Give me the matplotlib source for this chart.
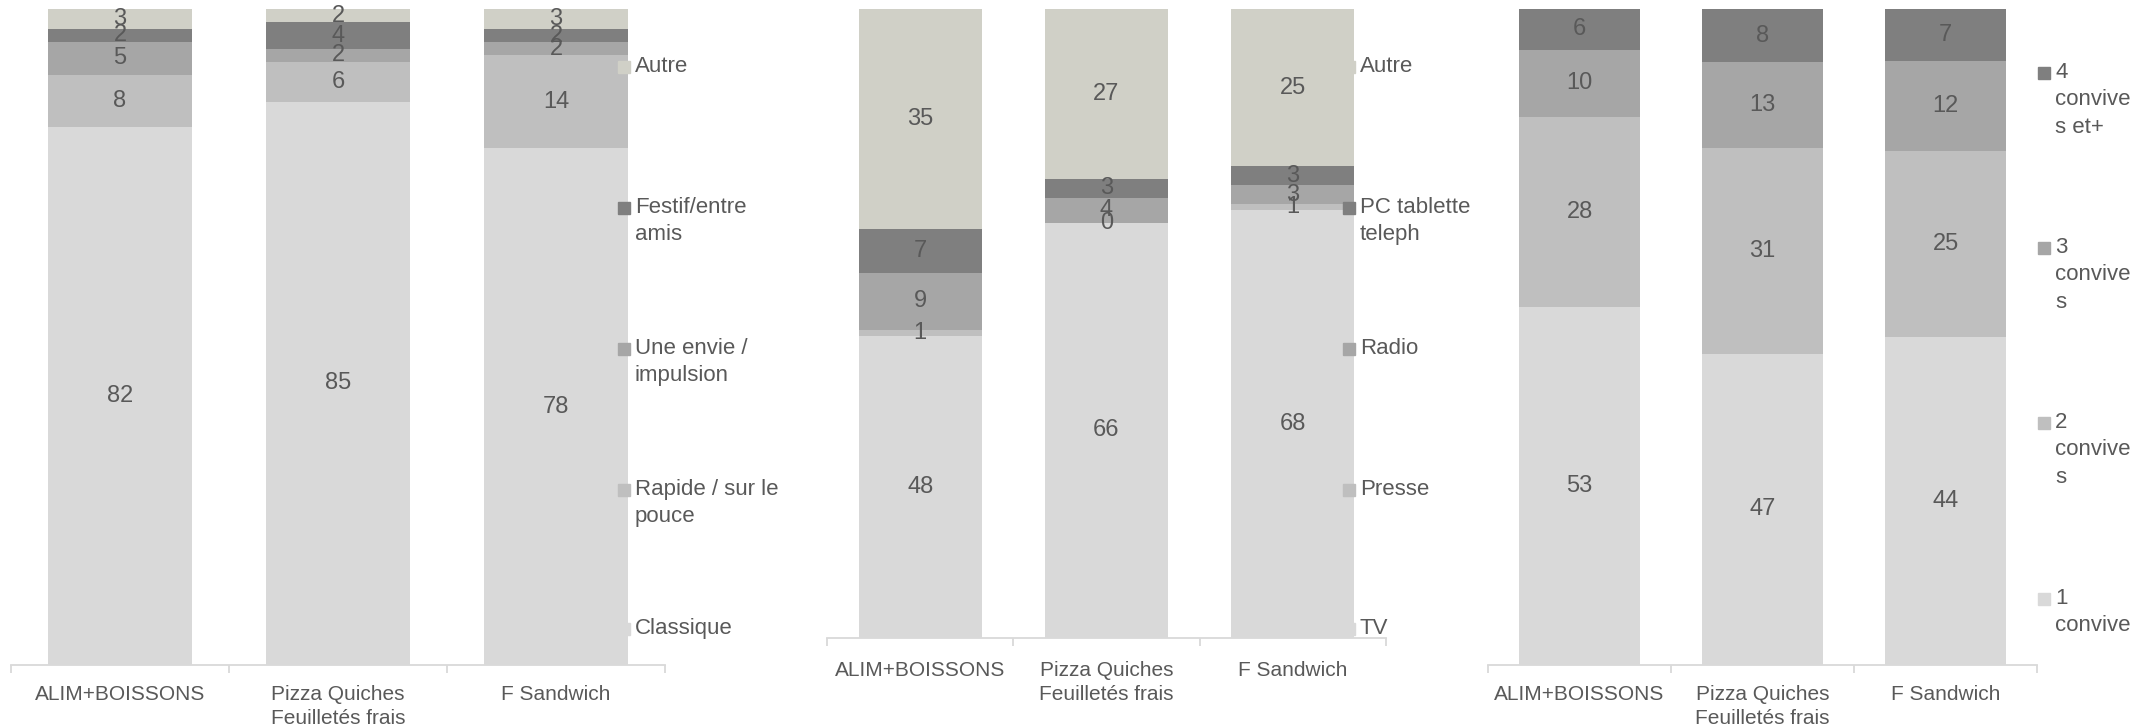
import numpy as np
import matplotlib.pyplot as plt
from matplotlib.patches import Rectangle

plt.rcParams['font.family'] = ['Liberation Sans', 'DejaVu Sans']

W, H = 2151, 728
CATEGORIES = ['ALIM+BOISSONS', 'Pizza Quiches\nFeuilletés frais', 'F Sandwich']

# panel 1 : type de repas
occasion_labels = ['Classique', 'Rapide / sur le\npouce', 'Une envie /\nimpulsion',
                   'Festif/entre\namis', 'Autre']
classique = [82, 85, 78]
rapide = [8, 6, 14]
envie = [5, 2, 2]
festif = [2, 4, 2]
autre_occ = [3, 2, 3]

# panel 2 : media
media_labels = ['TV', 'Presse', 'Radio', 'PC tablette\nteleph', 'Autre']
tv = [48, 66, 68]
presse = [1, 0, 1]
radio = [9, 4, 3]
pc = [7, 3, 3]
autre_media = [35, 27, 25]

# panel 3 : convives
convive_labels = ['1\nconvive', '2\nconvive\ns', '3\nconvive\ns', '4\nconvive\ns et+']
conv1 = [53, 47, 44]
conv2 = [28, 31, 25]
conv3 = [10, 13, 12]
conv4 = [6, 8, 7]

COLORS = ['#D9D9D9', '#BFBFBF', '#A6A6A6', '#7F7F7F', '#D0D0C7']
TEXT = '#595959'
AXIS = '#D9D9D9'


def draw_panel(fig, box, series, labels, marker_x, legend_base, pad):
    left, top, right, bottom = box
    ax = fig.add_axes([left / W, 1 - bottom / H, (right - left) / W, (bottom - top) / H])
    data = np.array(series, dtype=float)
    shares = data / data.sum(axis=0) * 100   # 100% stacked
    x = np.arange(len(CATEGORIES))
    base = np.zeros(len(CATEGORIES))
    for i in range(len(data)):
        bars = ax.bar(x, shares[i], 0.66, bottom=base, color=COLORS[i], linewidth=0)
        ax.bar_label(bars, labels=[f'{v:.0f}' for v in data[i]], label_type='center',
                     color=TEXT, fontsize=17)
        base += shares[i]
    ax.set_xlim(-0.5, 2.5)
    ax.set_ylim(0, 100)
    for s in ['top', 'left', 'right']:
        ax.spines[s].set_visible(False)
    ax.spines['bottom'].set_color(AXIS)
    ax.spines['bottom'].set_linewidth(1.3)
    ax.set_yticks([])
    ax.set_xticks(x)
    ax.set_xticklabels(CATEGORIES, linespacing=1.34)
    ax.set_xticks([-0.5, 0.5, 1.5, 2.5], minor=True)
    ax.tick_params(axis='x', which='major', length=0, pad=pad, labelsize=15, labelcolor=TEXT)
    ax.tick_params(axis='x', which='minor', length=6, width=1.3, color=AXIS)

    # legend, Excel style: evenly spread, marker on the first line
    for i, lab in enumerate(labels):
        yb = legend_base[i]
        fig.patches.append(Rectangle((marker_x / W, 1 - yb / H), 12 / W, 12 / H,
                                     transform=fig.transFigure, color=COLORS[i], zorder=5))
        fig.text((marker_x + 17) / W, 1 - (yb - 17) / H, lab, ha='left', va='top',
                 fontsize=16, color=TEXT, linespacing=1.4)
    return ax


fig = plt.figure(figsize=(W / 100, H / 100), dpi=100)

draw_panel(fig, (11, 9, 665, 665), [classique, rapide, envie, festif, autre_occ],
           occasion_labels, 618, [635, 496, 355, 214, 73], 14.5)
draw_panel(fig, (827, 9, 1386, 638), [tv, presse, radio, pc, autre_media],
           media_labels, 1343, [635, 496, 355, 214, 73], 16.5)
draw_panel(fig, (1488, 9, 2037, 665), [conv1, conv2, conv3, conv4],
           convive_labels, 2038, [605, 429, 254, 79], 14.5)

fig.savefig('out.png', dpi=100)
